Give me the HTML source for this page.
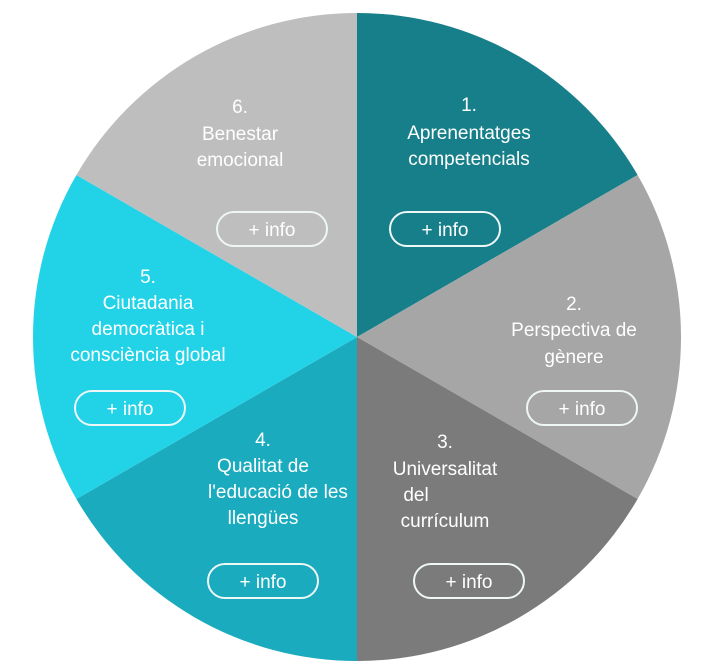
<!DOCTYPE html>
<html><head><meta charset="utf-8"><style>
html,body{margin:0;padding:0;background:#fff;width:701px;height:665px;overflow:hidden}
svg{display:block}
text{font-family:"Liberation Sans",sans-serif;font-size:19px;fill:#fff;text-anchor:middle}
.b{fill:none;stroke:#eef6f6;stroke-width:2}
</style></head><body>
<svg width="701" height="665" viewBox="0 0 701 665">
<g transform="translate(357,337)">
<path d="M0 0 L0 -324 A324 324 0 0 1 280.6 -162 Z" fill="#167f8a"/>
<path d="M0 0 L280.6 -162 A324 324 0 0 1 280.6 162 Z" fill="#a6a6a6"/>
<path d="M0 0 L280.6 162 A324 324 0 0 1 0 324 Z" fill="#7b7b7b"/>
<path d="M0 0 L0 324 A324 324 0 0 1 -280.6 162 Z" fill="#1aabbe"/>
<path d="M0 0 L-280.6 162 A324 324 0 0 1 -280.6 -162 Z" fill="#22d3e8"/>
<path d="M0 0 L-280.6 -162 A324 324 0 0 1 0 -324 Z" fill="#bebebe"/>
</g>
<text x="469" y="111">1.</text><text x="469" y="139">Aprenentatges</text><text x="469" y="165">competencials</text>
<rect class="b" x="390" y="212" width="110" height="34" rx="17"/><text x="445" y="236">+ info</text>
<text x="574" y="310">2.</text><text x="574" y="336">Perspectiva de</text><text x="574" y="363">gènere</text>
<rect class="b" x="527" y="391" width="110" height="34" rx="17"/><text x="582" y="415">+ info</text>
<text x="445" y="448">3.</text><text x="445" y="475">Universalitat</text><text x="416" y="501">del</text><text x="445" y="527">currículum</text>
<rect class="b" x="414" y="564" width="110" height="34" rx="17"/><text x="469" y="588">+ info</text>
<text x="263" y="446">4.</text><text x="263" y="472">Qualitat de</text><text x="278" y="498">l'educació de les</text><text x="263" y="524">llengües</text>
<rect class="b" x="208" y="564" width="110" height="34" rx="17"/><text x="263" y="588">+ info</text>
<text x="148" y="283">5.</text><text x="148" y="309">Ciutadania</text><text x="148" y="335">democràtica i</text><text x="148" y="361">consciència global</text>
<rect class="b" x="75" y="391" width="110" height="34" rx="17"/><text x="130" y="415">+ info</text>
<text x="240" y="113">6.</text><text x="240" y="140">Benestar</text><text x="240" y="166">emocional</text>
<rect class="b" x="217" y="212" width="110" height="34" rx="17"/><text x="272" y="236">+ info</text>
</svg>
</body></html>
